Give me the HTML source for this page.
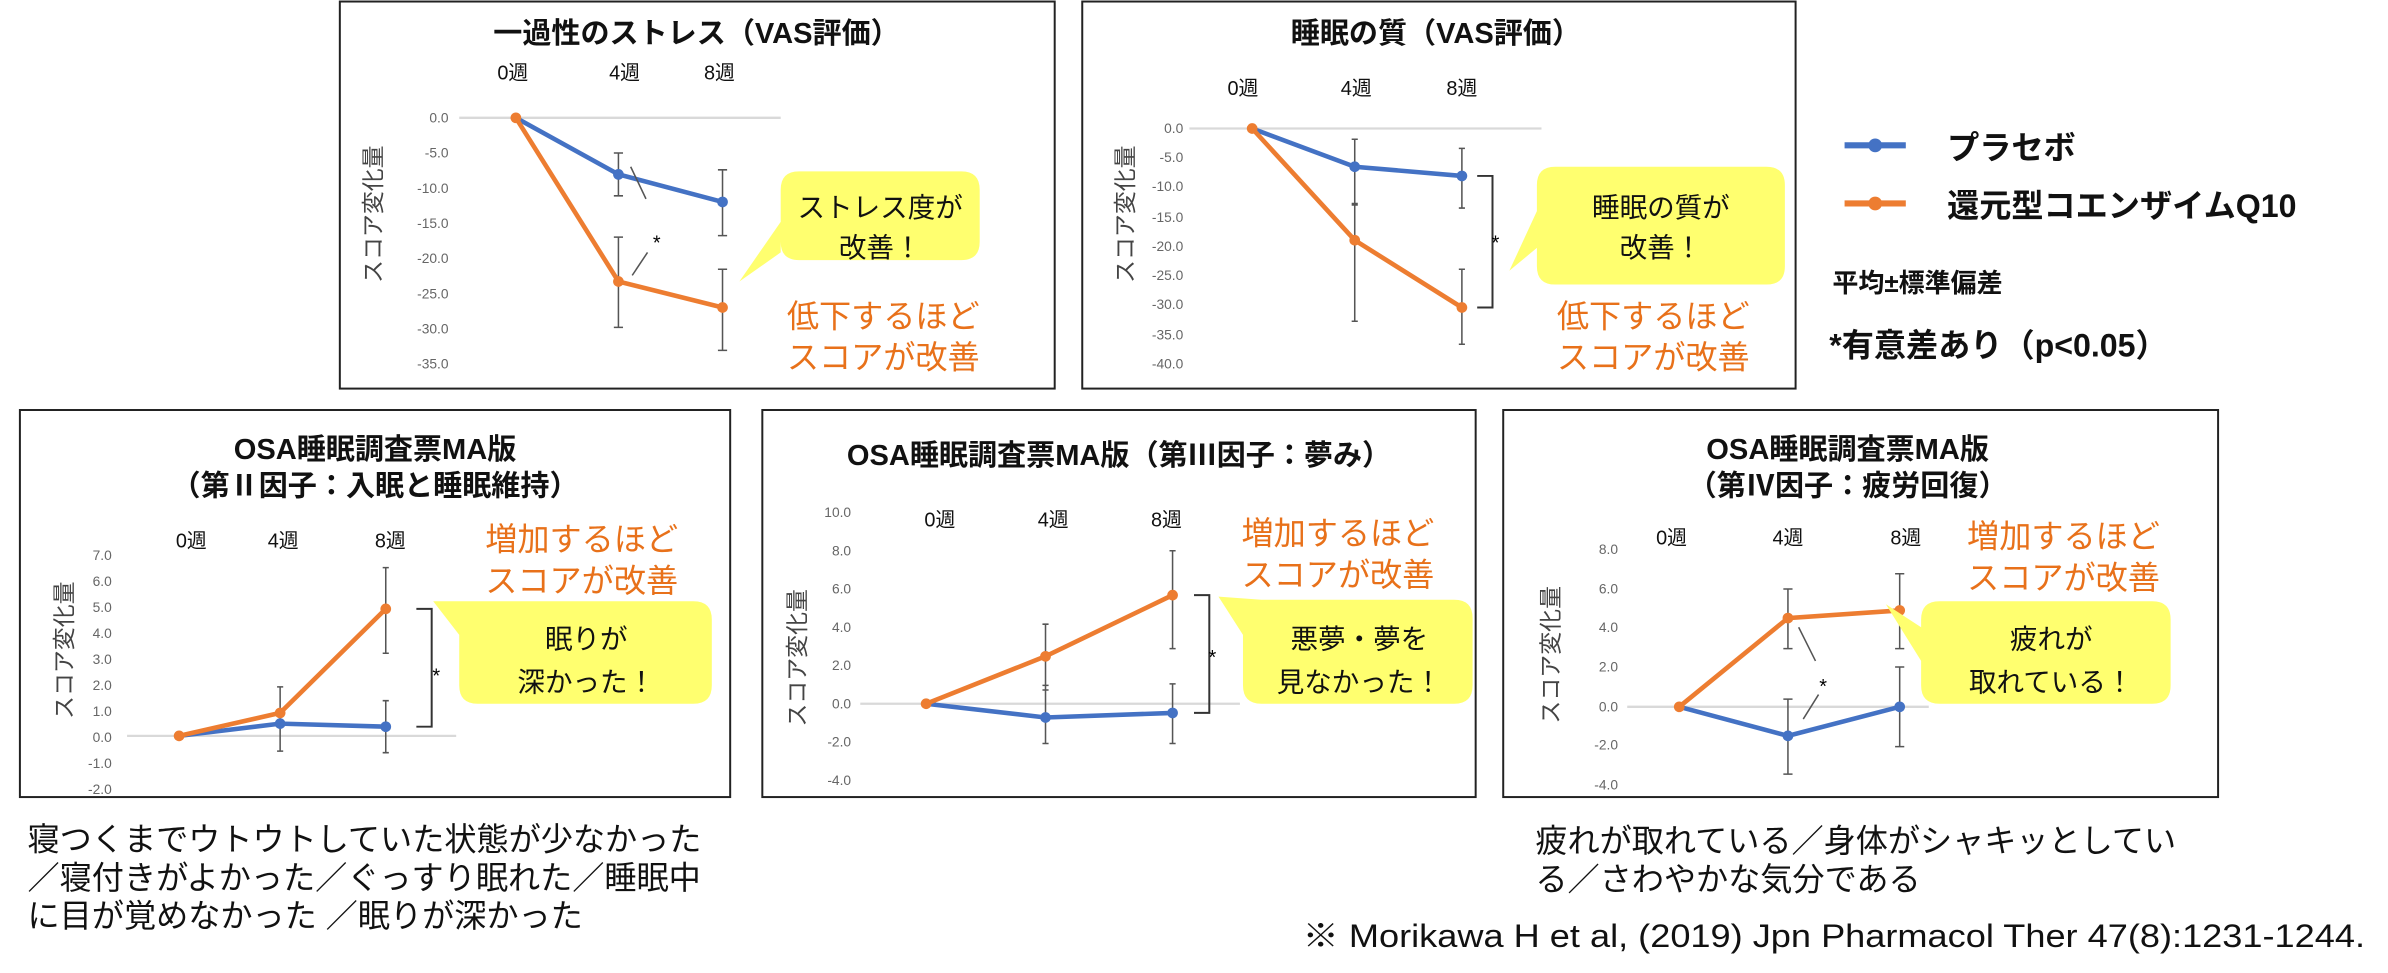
<!DOCTYPE html>
<html><head><meta charset="utf-8"><style>
html,body{margin:0;padding:0;background:#fff;}
svg{display:block;}
text{font-family:"Liberation Sans","Noto Sans CJK JP",sans-serif;}
.t{font-weight:bold;font-size:19px;fill:#111;text-anchor:middle;}
.wk{font-size:13px;fill:#111;text-anchor:middle;}
.yl{font-size:9px;fill:#666;text-anchor:end;}
.ax{font-size:15px;fill:#444;}
.or{font-size:21px;fill:#e8711a;text-anchor:middle;}
.cb{font-size:18px;fill:#111;text-anchor:middle;}
.bl{stroke:#4472c4;stroke-width:3;fill:none;}
.og{stroke:#ed7d31;stroke-width:3;fill:none;}
.eb{stroke:#555;stroke-width:1;fill:none;}
.zl{stroke:#d9d9d9;stroke-width:1.5;}
.box{fill:#fff;stroke:#222;stroke-width:1.3;}
.cal{fill:#ffff6f;}
.body{font-size:21px;fill:#111;}
</style></head><body>
<svg width="2388" height="973" viewBox="0 0 1560 636" preserveAspectRatio="none" xmlns="http://www.w3.org/2000/svg">
<!-- Panel 1 -->
<rect class="box" x="222" y="1" width="467" height="253"/>
<text class="t" x="455" y="28">一過性のストレス（VAS評価）</text>
<text class="wk" x="335" y="52">0週</text><text class="wk" x="408" y="52">4週</text><text class="wk" x="470" y="52">8週</text>
<line class="zl" x1="300" y1="77" x2="510" y2="77"/>
<g class="yl"><text x="293" y="80">0.0</text><text x="293" y="103">-5.0</text><text x="293" y="126">-10.0</text><text x="293" y="149">-15.0</text><text x="293" y="172">-20.0</text><text x="293" y="195">-25.0</text><text x="293" y="218">-30.0</text><text x="293" y="241">-35.0</text></g>
<text class="ax" transform="translate(249,140) rotate(-90)" text-anchor="middle">スコア変化量</text>
<path class="eb" d="M404 100V128M401 100h6M401 128h6M472 111V154M469 111h6M469 154h6M404 155V214M401 155h6M401 214h6M472 176V229M469 176h6M469 229h6"/>
<polyline class="bl" points="337,77 404,114 472,132"/>
<polyline class="og" points="337,77 404,184 472,201"/>
<g fill="#4472c4"><circle cx="404" cy="114" r="3.5"/><circle cx="472" cy="132" r="3.5"/></g>
<g fill="#ed7d31"><circle cx="337" cy="77" r="3.5"/><circle cx="404" cy="184" r="3.5"/><circle cx="472" cy="201" r="3.5"/></g>
<path class="eb" d="M412 109L422 130M413 180L423 165"/>
<text x="429" y="163" font-size="13" text-anchor="middle">*</text>
<path class="cal" d="M522 112H628Q640 112 640 124V158Q640 170 628 170H522Q510 170 510 158V165L483 184L510 145V124Q510 112 522 112Z"/>
<text class="cb" x="575" y="142">ストレス度が</text><text class="cb" x="575" y="168">改善！</text>
<text class="or" x="577" y="214">低下するほど</text><text class="or" x="577" y="241">スコアが改善</text>

<!-- Panel 2 -->
<rect class="box" x="707" y="1" width="466" height="253"/>
<text class="t" x="938" y="28">睡眠の質（VAS評価）</text>
<text class="wk" x="812" y="62">0週</text><text class="wk" x="886" y="62">4週</text><text class="wk" x="955" y="62">8週</text>
<line class="zl" x1="777" y1="84" x2="1007" y2="84"/>
<g class="yl"><text x="773" y="87">0.0</text><text x="773" y="106">-5.0</text><text x="773" y="125">-10.0</text><text x="773" y="145">-15.0</text><text x="773" y="164">-20.0</text><text x="773" y="183">-25.0</text><text x="773" y="202">-30.0</text><text x="773" y="222">-35.0</text><text x="773" y="241">-40.0</text></g>
<text class="ax" transform="translate(740,140) rotate(-90)" text-anchor="middle">スコア変化量</text>
<path class="eb" d="M885 91V133M883 91h4M883 133h4M955 97V136M953 97h4M953 136h4M885 134V210M883 134h4M883 210h4M955 176V225M953 176h4M953 225h4"/>
<polyline class="bl" points="818,84 885,109 955,115"/>
<polyline class="og" points="818,84 885,157 955,201"/>
<g fill="#4472c4"><circle cx="885" cy="109" r="3.5"/><circle cx="955" cy="115" r="3.5"/></g>
<g fill="#ed7d31"><circle cx="818" cy="84" r="3.5"/><circle cx="885" cy="157" r="3.5"/><circle cx="955" cy="201" r="3.5"/></g>
<path d="M965 115H975V201H965" stroke="#333" stroke-width="1.3" fill="none"/>
<text x="977" y="163" font-size="13" text-anchor="middle">*</text>
<path class="cal" d="M1016 109H1154Q1166 109 1166 121V174Q1166 186 1154 186H1016Q1004 186 1004 174V162L986 177L1004 138V121Q1004 109 1016 109Z"/>
<text class="cb" x="1085" y="142">睡眠の質が</text><text class="cb" x="1085" y="168">改善！</text>
<text class="or" x="1080" y="214">低下するほど</text><text class="or" x="1080" y="241">スコアが改善</text>

<!-- Legend -->
<line x1="1205" y1="95" x2="1245" y2="95" stroke="#4472c4" stroke-width="4"/><circle cx="1225" cy="95" r="4.5" fill="#4472c4"/>
<text x="1272" y="104" font-size="21" font-weight="bold" fill="#111">プラセボ</text>
<line x1="1205" y1="133" x2="1245" y2="133" stroke="#ed7d31" stroke-width="4"/><circle cx="1225" cy="133" r="4.5" fill="#ed7d31"/>
<text x="1272" y="142" font-size="21" font-weight="bold" fill="#111">還元型コエンザイムQ10</text>
<text x="1197" y="191" font-size="17" font-weight="bold" fill="#111">平均±標準偏差</text>
<text x="1195" y="233" font-size="21" font-weight="bold" fill="#111">*有意差あり（p&lt;0.05）</text>

<!-- Panel 3 -->
<rect class="box" x="13" y="268" width="464" height="253"/>
<text class="t" x="245" y="300">OSA睡眠調査票MA版</text>
<text class="t" x="245" y="324">（第Ⅱ因子：入眠と睡眠維持）</text>
<text class="wk" x="125" y="358">0週</text><text class="wk" x="185" y="358">4週</text><text class="wk" x="255" y="358">8週</text>
<line class="zl" x1="83" y1="481" x2="298" y2="481"/>
<g class="yl"><text x="73" y="366">7.0</text><text x="73" y="383">6.0</text><text x="73" y="400">5.0</text><text x="73" y="417">4.0</text><text x="73" y="434">3.0</text><text x="73" y="451">2.0</text><text x="73" y="468">1.0</text><text x="73" y="485">0.0</text><text x="73" y="502">-1.0</text><text x="73" y="519">-2.0</text></g>
<text class="ax" transform="translate(47,425) rotate(-90)" text-anchor="middle">スコア変化量</text>
<path class="eb" d="M183 449V491M181 449h4M181 491h4M252 371V427M250 371h4M250 427h4M252 458V492M250 458h4M250 492h4"/>
<polyline class="bl" points="117,481 183,473 252,475"/>
<polyline class="og" points="117,481 183,466 252,398"/>
<g fill="#4472c4"><circle cx="183" cy="473" r="3.5"/><circle cx="252" cy="475" r="3.5"/></g>
<g fill="#ed7d31"><circle cx="117" cy="481" r="3.5"/><circle cx="183" cy="466" r="3.5"/><circle cx="252" cy="398" r="3.5"/></g>
<path d="M272 398H282V475H272" stroke="#333" stroke-width="1.3" fill="none"/>
<text x="285" y="446" font-size="13" text-anchor="middle">*</text>
<path class="cal" d="M312 393H453Q465 393 465 405V448Q465 460 453 460H312Q300 460 300 448V415L283 393Z"/>
<text class="cb" x="383" y="424">眠りが</text><text class="cb" x="383" y="452">深かった！</text>
<text class="or" x="380" y="360">増加するほど</text><text class="or" x="380" y="387">スコアが改善</text>

<!-- Panel 4 -->
<rect class="box" x="498" y="268" width="466" height="253"/>
<text class="t" x="731" y="304">OSA睡眠調査票MA版（第Ⅲ因子：夢み）</text>
<text class="wk" x="614" y="344">0週</text><text class="wk" x="688" y="344">4週</text><text class="wk" x="762" y="344">8週</text>
<line class="zl" x1="562" y1="460" x2="810" y2="460"/>
<g class="yl"><text x="556" y="338">10.0</text><text x="556" y="363">8.0</text><text x="556" y="388">6.0</text><text x="556" y="413">4.0</text><text x="556" y="438">2.0</text><text x="556" y="463">0.0</text><text x="556" y="488">-2.0</text><text x="556" y="513">-4.0</text></g>
<text class="ax" transform="translate(526,430) rotate(-90)" text-anchor="middle">スコア変化量</text>
<path class="eb" d="M683 408V451M681 408h4M681 451h4M766 360V424M764 360h4M764 424h4M683 448V486M681 448h4M681 486h4M766 447V486M764 447h4M764 486h4"/>
<polyline class="bl" points="605,460 683,469 766,466"/>
<polyline class="og" points="605,460 683,429 766,389"/>
<g fill="#4472c4"><circle cx="683" cy="469" r="3.5"/><circle cx="766" cy="466" r="3.5"/></g>
<g fill="#ed7d31"><circle cx="605" cy="460" r="3.5"/><circle cx="683" cy="429" r="3.5"/><circle cx="766" cy="389" r="3.5"/></g>
<path d="M780 389H790V466H780" stroke="#333" stroke-width="1.3" fill="none"/>
<text x="792" y="434" font-size="13" text-anchor="middle">*</text>
<path class="cal" d="M824 392H950Q962 392 962 404V448Q962 460 950 460H824Q812 460 812 448V415L796 390Z"/>
<text class="cb" x="888" y="424">悪夢・夢を</text><text class="cb" x="888" y="452">見なかった！</text>
<text class="or" x="874" y="356">増加するほど</text><text class="or" x="874" y="383">スコアが改善</text>

<!-- Panel 5 -->
<rect class="box" x="982" y="268" width="467" height="253"/>
<text class="t" x="1207" y="300">OSA睡眠調査票MA版</text>
<text class="t" x="1207" y="324">（第Ⅳ因子：疲労回復）</text>
<text class="wk" x="1092" y="356">0週</text><text class="wk" x="1168" y="356">4週</text><text class="wk" x="1245" y="356">8週</text>
<line class="zl" x1="1063" y1="462" x2="1260" y2="462"/>
<g class="yl"><text x="1057" y="362">8.0</text><text x="1057" y="388">6.0</text><text x="1057" y="413">4.0</text><text x="1057" y="439">2.0</text><text x="1057" y="465">0.0</text><text x="1057" y="490">-2.0</text><text x="1057" y="516">-4.0</text></g>
<text class="ax" transform="translate(1018,428) rotate(-90)" text-anchor="middle">スコア変化量</text>
<path class="eb" d="M1168 385V424M1165 385h6M1165 424h6M1241 375V424M1238 375h6M1238 424h6M1168 457V506M1165 457h6M1165 506h6M1241 436V488M1238 436h6M1238 488h6"/>
<polyline class="bl" points="1097,462 1168,481 1241,462"/>
<polyline class="og" points="1097,462 1168,404 1241,399"/>
<g fill="#4472c4"><circle cx="1168" cy="481" r="3.5"/><circle cx="1241" cy="462" r="3.5"/></g>
<g fill="#ed7d31"><circle cx="1097" cy="462" r="3.5"/><circle cx="1168" cy="404" r="3.5"/><circle cx="1241" cy="399" r="3.5"/></g>
<path class="eb" d="M1175 410L1186 432M1178 470L1188 454"/>
<text x="1191" y="453" font-size="13" text-anchor="middle">*</text>
<path class="cal" d="M1267 393H1406Q1418 393 1418 405V448Q1418 460 1406 460H1267Q1255 460 1255 448V432L1232 395L1255 410V405Q1255 393 1267 393Z"/>
<text class="cb" x="1340" y="424">疲れが</text><text class="cb" x="1340" y="452">取れている！</text>
<text class="or" x="1348" y="358">増加するほど</text><text class="or" x="1348" y="385">スコアが改善</text>

<!-- Bottom text -->
<text class="body" x="18" y="556">寝つくまでウトウトしていた状態が少なかった</text>
<text class="body" x="18" y="581">／寝付きがよかった／ぐっすり眠れた／睡眠中</text>
<text class="body" x="18" y="606">に目が覚めなかった ／眠りが深かった</text>
<text class="body" x="1003" y="557">疲れが取れている／身体がシャキッとしてい</text>
<text class="body" x="1003" y="582">る／さわやかな気分である</text>
<text x="851" y="619" font-size="21" fill="#111" textLength="694" lengthAdjust="spacingAndGlyphs">※ Morikawa H et al, (2019) Jpn Pharmacol Ther 47(8):1231-1244.</text>
</svg>
</body></html>
